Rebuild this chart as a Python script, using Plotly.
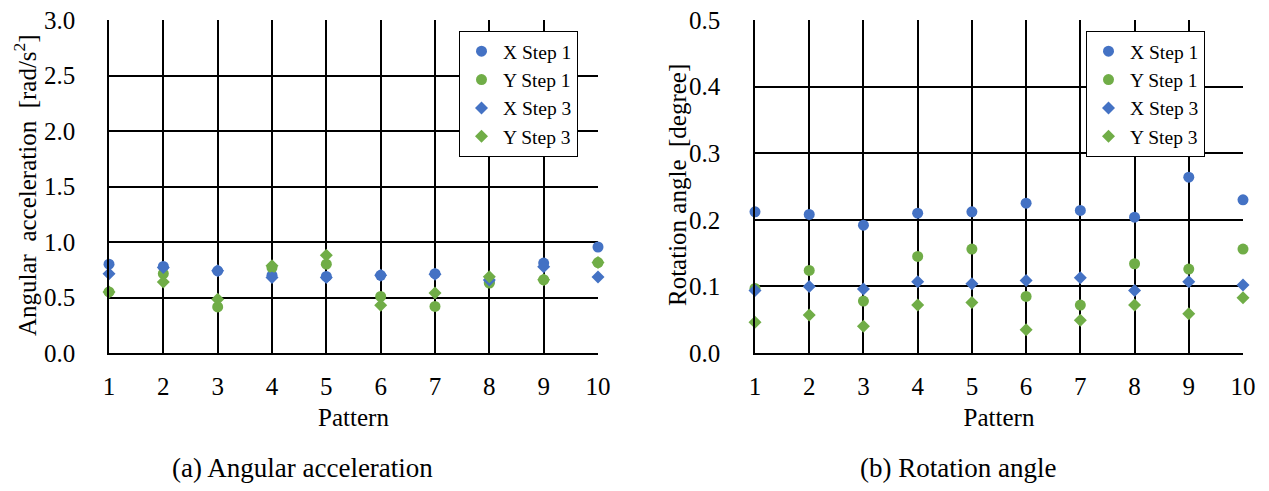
import plotly.graph_objects as go

patterns = [1, 2, 3, 4, 5, 6, 7, 8, 9, 10]

# (a) Angular acceleration [rad/s^2]
acc_x_step1 = [0.80, 0.78, 0.74, 0.70, 0.69, 0.70, 0.715, 0.64, 0.81, 0.955]
acc_y_step1 = [0.55, 0.715, 0.415, 0.77, 0.80, 0.51, 0.42, 0.63, 0.66, 0.815]
acc_x_step3 = [0.715, 0.77, 0.74, 0.68, 0.68, 0.70, 0.71, 0.657, 0.776, 0.685]
acc_y_step3 = [0.55, 0.64, 0.485, 0.785, 0.88, 0.43, 0.54, 0.687, 0.66, 0.815]

# (b) Rotation angle [degree]
rot_x_step1 = [0.212, 0.208, 0.192, 0.210, 0.212, 0.225, 0.214, 0.204, 0.264, 0.230]
rot_y_step1 = [0.097, 0.124, 0.078, 0.145, 0.156, 0.085, 0.072, 0.134, 0.126, 0.156]
rot_x_step3 = [0.094, 0.100, 0.096, 0.107, 0.104, 0.109, 0.113, 0.094, 0.107, 0.102]
rot_y_step3 = [0.046, 0.057, 0.040, 0.072, 0.076, 0.035, 0.049, 0.072, 0.059, 0.083]

BLUE = "#4472C4"
GREEN = "#70AD47"
FONT = "Liberation Serif"

fig = go.Figure()

series = [
    ("X Step 1", "circle", BLUE, 11),
    ("Y Step 1", "circle", GREEN, 11),
    ("X Step 3", "diamond", BLUE, 10),
    ("Y Step 3", "diamond", GREEN, 10),
]
left_vals = [acc_x_step1, acc_y_step1, acc_x_step3, acc_y_step3]
right_vals = [rot_x_step1, rot_y_step1, rot_x_step3, rot_y_step3]

for (name, sym, col, sz), v in zip(series, left_vals):
    fig.add_trace(go.Scatter(x=patterns, y=v, mode="markers", name=name,
                             marker=dict(symbol=sym, color=col, size=sz),
                             xaxis="x", yaxis="y", legend="legend", cliponaxis=False))
for (name, sym, col, sz), v in zip(series, right_vals):
    fig.add_trace(go.Scatter(x=patterns, y=v, mode="markers", name=name,
                             marker=dict(symbol=sym, color=col, size=sz),
                             xaxis="x2", yaxis="y2", legend="legend2", cliponaxis=False))

W, H = 1269, 491
def px_x(p):
    return p / W
def px_y(p):
    return 1 - p / H

TICKSIZE = 25
TITLESIZE = 25

axis_common = dict(showgrid=True, gridcolor="black", gridwidth=1.5, showline=True,
                   linecolor="black", linewidth=1.5, zeroline=False, ticks="",
                   automargin=False,
                   tickfont=dict(family=FONT, size=TICKSIZE, color="black"))

legend_common = dict(xanchor="left", yanchor="top", bgcolor="white", bordercolor="black",
                     borderwidth=1, font=dict(family=FONT, size=19.5, color="black"),
                     itemwidth=33, tracegroupgap=0)

fig.update_layout(
    width=W, height=H,
    margin=dict(l=0, r=0, t=0, b=0),
    paper_bgcolor="white", plot_bgcolor="white",
    font=dict(family=FONT, color="black"),
    showlegend=True,
    xaxis=dict(domain=[px_x(109), px_x(598)], range=[1, 10], dtick=1, anchor="y",
               ticklabelstandoff=10,
               title=dict(text="Pattern", font=dict(size=TITLESIZE, family=FONT), standoff=10),
               **axis_common),
    yaxis=dict(domain=[px_y(353), px_y(20)], range=[0, 3.0], dtick=0.5, tickformat=".1f",
               anchor="x", ticklabelstandoff=27, **axis_common),
    xaxis2=dict(domain=[px_x(755), px_x(1243)], range=[1, 10], dtick=1, anchor="y2",
                ticklabelstandoff=10,
                title=dict(text="Pattern", font=dict(size=TITLESIZE, family=FONT), standoff=10),
                **axis_common),
    yaxis2=dict(domain=[px_y(353), px_y(20)], range=[0, 0.5], dtick=0.1, tickformat=".1f",
                anchor="x2", ticklabelstandoff=28, **axis_common),
    legend=dict(x=px_x(459), y=px_y(31), **legend_common),
    legend2=dict(x=px_x(1086), y=px_y(31), **legend_common),
    annotations=[
        dict(text="Angular  acceleration  [rad/s<sup>2</sup>]", x=px_x(25), y=px_y(185),
             xref="paper", yref="paper", textangle=-90, showarrow=False,
             font=dict(family=FONT, size=TITLESIZE, color="black"), xanchor="center", yanchor="middle"),
        dict(text="Rotation angle  [degree]", x=px_x(677), y=px_y(185),
             xref="paper", yref="paper", textangle=-90, showarrow=False,
             font=dict(family=FONT, size=TITLESIZE, color="black"), xanchor="center", yanchor="middle"),
        dict(text="(a) Angular acceleration", x=px_x(302), y=px_y(468), xref="paper", yref="paper",
             showarrow=False, font=dict(family=FONT, size=27, color="black"), xanchor="center", yanchor="middle"),
        dict(text="(b) Rotation angle", x=px_x(958), y=px_y(468), xref="paper", yref="paper",
             showarrow=False, font=dict(family=FONT, size=27, color="black"), xanchor="center", yanchor="middle"),
    ],
)

fig.write_html("out.html")
